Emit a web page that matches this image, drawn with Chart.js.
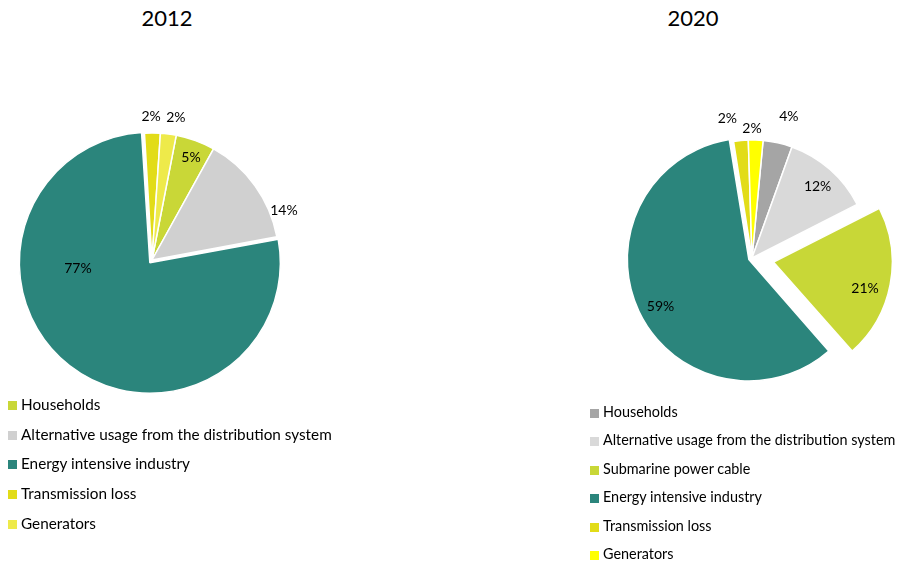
<!DOCTYPE html>
<html>
<head>
<meta charset="utf-8">
<script src="https://cdn.jsdelivr.net/npm/chart.js@4.4.0/dist/chart.umd.min.js"></script>
<style>
  body { margin: 0; width: 900px; height: 561px; overflow: hidden; background: #fff; position: relative; font-family: Lato, "Open Sans", sans-serif; color: #000; }
  .title { position: absolute; top: 4px; font-size: 22px; width: 120px; text-align: center; }
  canvas { position: absolute; }
  .legend { position: absolute; font-size: 15.3px; }
  .legend span.box { position: absolute; left: 0; width: 9px; height: 9px; }
  .legend span.txt { position: absolute; left: 13px; white-space: nowrap; }
</style>
</head>
<body>
<div class="title" style="left:107px">2012</div>
<div class="title" style="left:633px">2020</div>
<canvas id="pie2012" width="304" height="400" style="left:0px;top:60px"></canvas>
<canvas id="pie2020" width="280" height="360" style="left:612px;top:78px"></canvas>
<div class="legend" id="leg2012" style="left:8px;top:405px"></div>
<div class="legend" id="leg2020" style="left:590px;top:413px;font-size:14.4px"></div>
<script>
// 2012
const labels2012 = ["Households", "Alternative usage from the distribution system", "Energy intensive industry", "Transmission loss", "Generators"];
const values2012 = [5, 14, 77, 2, 2];
const colors2012 = ["#c9d737", "#d0d0d0", "#2b857c", "#e2dc18", "#eeea4a"];

// 2020
const labels2020 = ["Households", "Alternative usage from the distribution system", "Submarine power cable", "Energy intensive industry", "Transmission loss", "Generators"];
const values2020 = [4, 12, 21, 59, 2, 2];
const colors2020 = ["#a5a5a5", "#d9d9d9", "#c8d737", "#2b857c", "#e2dc18", "#ffff00"];

// percent labels: [fraction along the arc, radius factor]
const pctLabels = {
  id: "pctLabels",
  afterDatasetsDraw(chart, args, opts) {
    const ctx = chart.ctx;
    const meta = chart.getDatasetMeta(0);
    ctx.save();
    ctx.font = "14px Lato, 'Open Sans', sans-serif";
    ctx.fillStyle = "#000";
    ctx.textAlign = "center";
    ctx.textBaseline = "middle";
    meta.data.forEach((arc, i) => {
      const p = arc.getProps(["x", "y", "startAngle", "endAngle", "outerRadius", "circumference"], true);
      // same shift the arc element uses when drawing an offset slice
      const o = (arc.options.offset || 0) / 4;
      const fix = 1 - Math.sin(Math.min(Math.PI, p.circumference || 0));
      const off = o + o * fix;
      const mid = (p.startAngle + p.endAngle) / 2;
      const cx = p.x + Math.cos(mid) * off;
      const cy = p.y + Math.sin(mid) * off;
      const pl = opts.place[i];
      const a = p.startAngle + pl[0] * (p.endAngle - p.startAngle);
      const r = pl[1] * p.outerRadius;
      ctx.fillText(chart.data.datasets[0].data[i] + "%", cx + Math.cos(a) * r, cy + Math.sin(a) * r);
    });
    ctx.restore();
  }
};

function makePie(id, labels, values, colors, radius, rotation, offsets, place) {
  return new Chart(document.getElementById(id), {
    type: "pie",
    data: {
      labels: labels,
      datasets: [{
        data: values,
        backgroundColor: colors,
        borderColor: "#fff",
        borderWidth: 1.5,
        offset: offsets,
        radius: radius
      }]
    },
    options: {
      responsive: false,
      animation: false,
      rotation: rotation,
      layout: { padding: 0 },
      plugins: {
        legend: { display: false },
        tooltip: { enabled: false },
        pctLabels: { place: place }
      }
    },
    plugins: [pctLabels]
  });
}

function makeLegend(elId, labels, colors, step) {
  const el = document.getElementById(elId);
  labels.forEach((lab, i) => {
    const row = document.createElement("div");
    row.style.top = (i * step) + "px";
    row.style.position = "absolute";
    row.innerHTML = '<span class="box" style="top:-4px;background:' + colors[i] + '"></span>' +
      '<span class="txt" style="top:-10px">' + lab + '</span>';
    el.appendChild(row);
  });
}

makePie("pie2012", labels2012, values2012, colors2012, 127, 11, [0, 0, 14, 0, 0],
  [[0.55, 0.86], [0.8, 1.11], [0.68, 0.55], [0.42, 1.13], [0.79, 1.14]]);
makePie("pie2020", labels2020, values2020, colors2020, 118, 5.4, [0, 0, 88, 14, 0, 0],
  [[0.64, 1.24], [0.53, 0.82], [0.57, 0.8], [0.485, 0.82], [-0.14, 1.2], [0.25, 1.1]]);

makeLegend("leg2012", labels2012, colors2012, 29.7);
makeLegend("leg2020", labels2020, colors2020, 28.4);
</script>
</body>
</html>
